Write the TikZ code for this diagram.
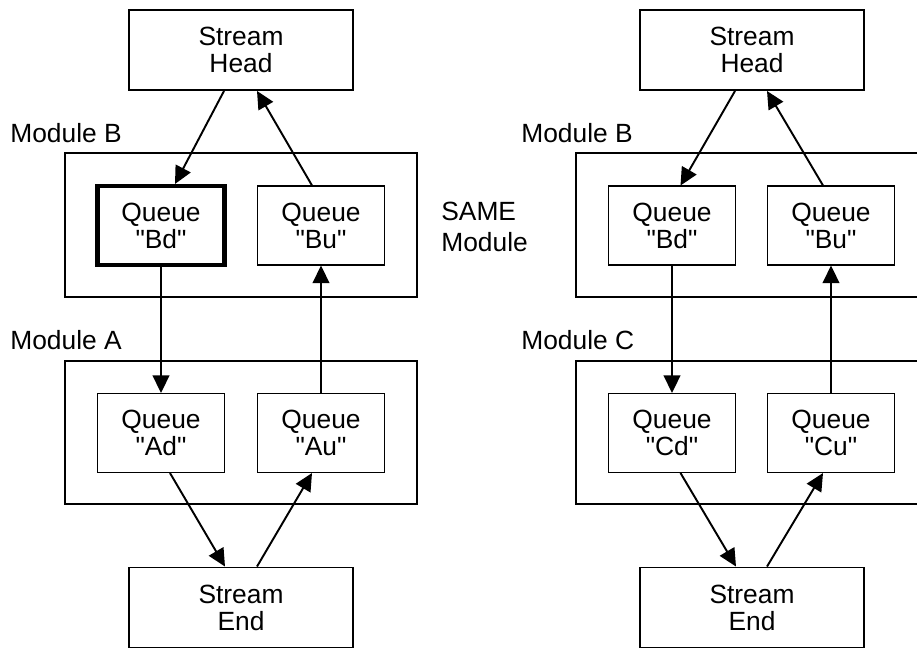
\documentclass[tikz,border=0pt]{standalone}
\usepackage{fontspec}
\setmainfont{Liberation Sans}
\usetikzlibrary{arrows.meta}

\begin{document}
\begin{tikzpicture}[>={Triangle[length=10pt,width=9.5pt]},
    every node/.style={font=\fontsize{15}{15.4}\selectfont},
    headbox/.style={rectangle,draw,line width=1.1pt,minimum width=4.48cm,minimum height=1.6cm,align=center,inner sep=0pt},
    modbox/.style={rectangle,draw,line width=1.1pt,minimum width=7.04cm,minimum height=2.87cm},
    queuebox/.style={rectangle,draw,line width=.6pt,minimum width=2.54cm,minimum height=1.58cm,align=center,inner sep=0pt},
    modlabel/.style={anchor=base west,inner sep=0pt},
    flow/.style={->,line width=1.1pt}]
    \useasboundingbox (0,0) rectangle (18.34,-12.96);
    \clip (0,0) rectangle (18.34,-12.96);

    % left stream
    \node[headbox] (headL) at (4.82,-1.0) {Stream\\Head};
    \node[modbox]  (modBL) at (4.82,-4.5) {};
    \node[modbox]  (modAL) at (4.82,-8.65) {};
    \node[queuebox,line width=2.3pt] (BdL) at (3.22,-4.51) {Queue\\\textquotedbl Bd\textquotedbl};
    \node[queuebox] (BuL) at (6.42,-4.51) {Queue\\\textquotedbl Bu\textquotedbl};
    \node[queuebox] (AdL) at (3.22,-8.66) {Queue\\\textquotedbl Ad\textquotedbl};
    \node[queuebox] (AuL) at (6.42,-8.66) {Queue\\\textquotedbl Au\textquotedbl};
    \node[headbox] (endL) at (4.82,-12.15) {Stream\\End};
    \node[modlabel] (labBL) at (0.2,-2.84) {Module B};
    \node[modlabel] (labAL) at (0.2,-6.98) {Module A};

    \node[modlabel,align=left,font=\fontsize{15}{17.3}\selectfont] (same) at (8.82,-5.02) {SAME\\Module};

    % right stream
    \node[headbox] (headR) at (15.04,-1.0) {Stream\\Head};
    \node[modbox]  (modBR) at (15.04,-4.5) {};
    \node[modbox]  (modCR) at (15.04,-8.65) {};
    \node[queuebox] (BdR) at (13.44,-4.51) {Queue\\\textquotedbl Bd\textquotedbl};
    \node[queuebox] (BuR) at (16.62,-4.51) {Queue\\\textquotedbl Bu\textquotedbl};
    \node[queuebox] (CdR) at (13.44,-8.66) {Queue\\\textquotedbl Cd\textquotedbl};
    \node[queuebox] (CuR) at (16.62,-8.66) {Queue\\\textquotedbl Cu\textquotedbl};
    \node[headbox] (endR) at (15.04,-12.15) {Stream\\End};
    \node[modlabel] (labBR) at (10.42,-2.84) {Module B};
    \node[modlabel] (labCR) at (10.42,-6.98) {Module C};

    \draw[flow] ([xshift=-.34cm]headL.south) -- ([xshift=.28cm]BdL.north);
    \draw[flow] ([xshift=-.18cm]BuL.north) -- ([xshift=.32cm]headL.south);
    \draw[flow] (BdL.south) -- (AdL.north);
    \draw[flow] (AuL.north) -- (BuL.south);
    \draw[flow] ([xshift=.18cm]AdL.south) -- ([xshift=-.32cm]endL.north);
    \draw[flow] ([xshift=.32cm]endL.north) -- ([xshift=-.18cm]AuL.south);

    \draw[flow] ([xshift=-.34cm]headR.south) -- ([xshift=.17cm]BdR.north);
    \draw[flow] ([xshift=-.16cm]BuR.north) -- ([xshift=.3cm]headR.south);
    \draw[flow] (BdR.south) -- (CdR.north);
    \draw[flow] (CuR.north) -- (BuR.south);
    \draw[flow] ([xshift=.17cm]CdR.south) -- ([xshift=-.32cm]endR.north);
    \draw[flow] ([xshift=.3cm]endR.north) -- ([xshift=-.16cm]CuR.south);
\end{tikzpicture}
\end{document}
